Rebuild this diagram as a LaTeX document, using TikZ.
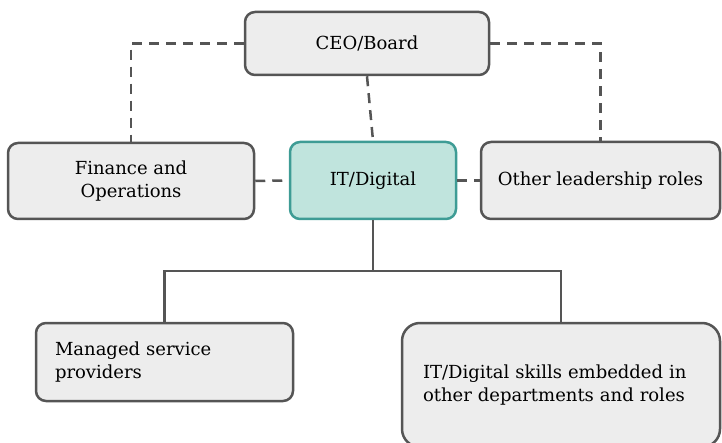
\documentclass[tikz,border=0pt]{standalone}
\usepackage{fontspec}
\setmainfont{DejaVu Serif}
\usetikzlibrary{positioning}
\definecolor{boxgray}{HTML}{EDEDED}
\definecolor{linegray}{HTML}{555555}
\definecolor{itfill}{HTML}{C0E4DD}
\definecolor{itline}{HTML}{3E9C95}

\begin{document}
\begin{tikzpicture}[x=1pt,y=-1pt,
		gbox/.style={draw=linegray,fill=boxgray,line width=2.5pt,rounded corners=10pt,
			font=\fontsize{18}{23}\selectfont,align=center,inner sep=0pt},
		itbox/.style={gbox,draw=itline,fill=itfill},
		dline/.style={draw=linegray,line width=2.5pt,dash pattern=on 10pt off 7pt},
		sline/.style={draw=linegray,line width=2.5pt}]
	\useasboundingbox (0,0) rectangle (722,443);
	% top row and middle row
	\node[gbox,minimum width=244pt,minimum height=63pt] (ceo) at (367,43.5) {CEO/Board};
	\node[gbox,minimum width=246pt,minimum height=76pt] (fin) at (131,181) {Finance and\\Operations};
	\node[itbox,minimum width=166pt,minimum height=77pt] (itd) at (373,180.5) {IT/Digital};
	\node[gbox,minimum width=239pt,minimum height=77pt] (oth) at (600.5,180.5) {Other leadership roles};
	% bottom row
	\node[gbox,align=left,text width=219pt,inner xsep=19pt,minimum height=78pt] (msp) at (164.5,362)
		{Managed service\\providers};
	\node[gbox,align=left,text width=276pt,inner xsep=21pt,minimum height=124pt,rounded corners=18pt] (emb) at (561,385)
		{IT/Digital skills embedded in\\other departments and roles};
	% dashed links
	\draw[dline] (ceo.west) -| (fin.north);
	\draw[dline] (ceo.east) -| (oth.north);
	\draw[dline] (ceo.south) -- (itd.north);
	\draw[dline] (fin.east) -- (itd.west);
	\draw[dline] (itd.east) -- (oth.west);
	% solid links
	\coordinate (split) at (373,271);
	\draw[sline] (itd.south) -- (split);
	\draw[sline] (msp.north) |- (split) -| (emb.north);
\end{tikzpicture}
\end{document}
